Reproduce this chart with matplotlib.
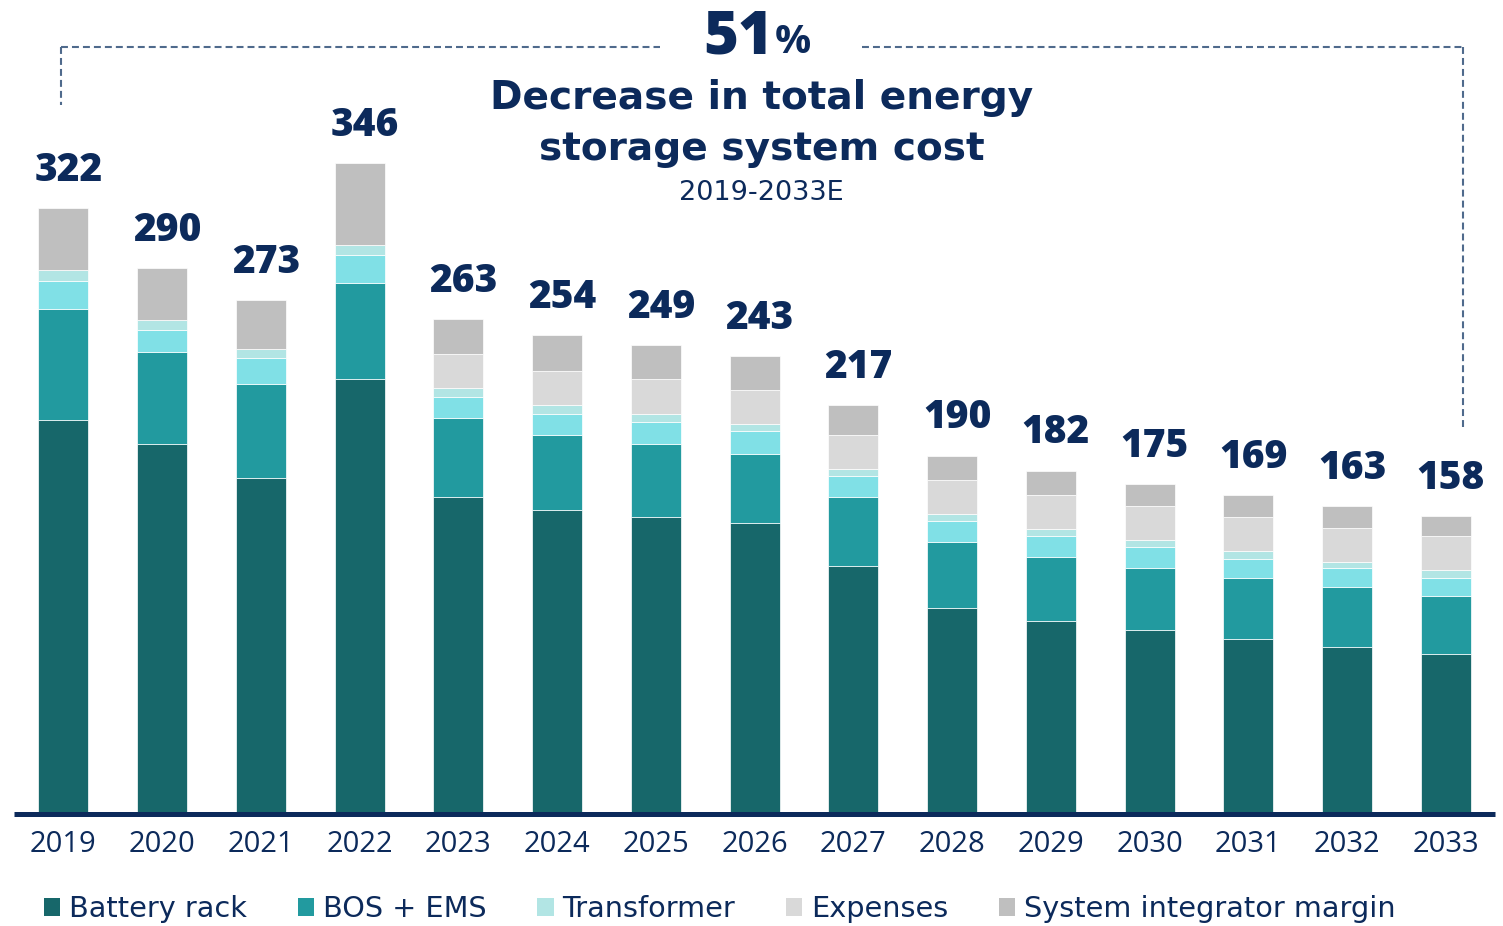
import matplotlib
matplotlib.use("Agg")
import matplotlib.pyplot as plt
from matplotlib.lines import Line2D
import numpy as np

# ---------------- data ----------------
years = ["2019", "2020", "2021", "2022", "2023", "2024", "2025", "2026",
         "2027", "2028", "2029", "2030", "2031", "2032", "2033"]
totals = [322, 290, 273, 346, 263, 254, 249, 243, 217, 190, 182, 175, 169, 163, 158]
battery_rack = [209, 196, 178, 231, 168, 161, 157, 154, 131, 109, 102, 97, 92, 88, 84]
bos_ems = [59, 49, 50, 51, 42, 40, 39, 37, 37, 35, 34, 33, 33, 32, 31]
other_equipment = [15, 12, 14, 15, 11, 11, 12, 12, 11, 11, 11, 11, 10, 10, 10]
transformer = [6, 5, 5, 5, 5, 5, 4, 4, 4, 4, 4, 4, 4, 3, 4]
expenses = [0, 0, 0, 0, 18, 18, 19, 18, 18, 18, 18, 18, 18, 18.5, 18]
integrator_margin = [33, 28, 26, 44, 19, 19, 18, 18, 16, 13, 13, 12, 12, 11.5, 11]

series = [
    ("Battery rack", battery_rack, "#17676A"),
    ("BOS + EMS", bos_ems, "#229A9F"),
    ("_other", other_equipment, "#80E0E6"),
    ("Transformer", transformer, "#B2E5E4"),
    ("Expenses", expenses, "#D9D9D9"),
    ("System integrator margin", integrator_margin, "#BFBFBF"),
]

NAVY = "#0C2A5B"
DASH = "#4F6A8C"
FONT = ["Open Sans", "DejaVu Sans"]
WIDE = ["DejaVu Sans"]
plt.rcParams["font.family"] = FONT
plt.rcParams["lines.scale_dashes"] = False

W, H = 1503, 926
fig = plt.figure(figsize=(W / 100, H / 100), dpi=100)


def fx(px):
    return px / W


def fy(py):
    return 1 - py / H


base_px = 812.0
px_per_unit = 1.876
ax = fig.add_axes([fx(15), fy(base_px), (1495 - 15) / W, base_px / H])
x = np.arange(len(years))
ax.set_xlim(-0.489, 14.497)
ax.set_ylim(0, base_px / px_per_unit)

bottom = np.zeros(len(years))
handles = {}
for name, vals, col in series:
    v = np.array(vals, dtype=float)
    bc = ax.bar(x, v, width=0.506, bottom=bottom, color=col,
                edgecolor="white", linewidth=0.5, label=name, zorder=2)
    handles[name] = bc
    bottom += v

for xi, t in zip(x, totals):
    ax.annotate(str(t), xy=(xi, t), xytext=(3.6, 19.5), textcoords="offset points",
                ha="center", va="baseline", fontsize=28, fontweight="heavy",
                color=NAVY)

ax.set_xticks(x)
ax.set_xticklabels(years, fontsize=21, color=NAVY)
ax.tick_params(axis="x", length=0, pad=13)
ax.set_yticks([])
for s in ax.spines.values():
    s.set_visible(False)

# axis line
fig.add_artist(Line2D([fx(14), fx(1495)], [fy(814.2)] * 2, transform=fig.transFigure,
                      color=NAVY, linewidth=3.6, solid_capstyle="butt"))

# dashed bracket
dash_kw = dict(transform=fig.transFigure, color=DASH, linewidth=1.5,
               linestyle=(0, (5, 2.9)))
fig.add_artist(Line2D([fx(61), fx(660)], [fy(46.7)] * 2, **dash_kw))
fig.add_artist(Line2D([fx(862), fx(1463)], [fy(46.7)] * 2, **dash_kw))
fig.add_artist(Line2D([fx(61)] * 2, [fy(46.7), fy(105)], **dash_kw))
fig.add_artist(Line2D([fx(1463)] * 2, [fy(46.7), fy(430)], **dash_kw))

# headline texts
fig.text(fx(773), fy(53), "51", ha="right", va="baseline", fontsize=43,
         fontweight="heavy", color=NAVY)
fig.text(fx(775), fy(53), "%", ha="left", va="baseline", fontsize=29,
         fontweight="bold", color=NAVY)
fig.text(fx(761.5), fy(109), "Decrease in total energy", ha="center", va="baseline",
         fontsize=28.2, fontweight="bold", color=NAVY, family=WIDE)
fig.text(fx(761.5), fy(160), "storage system cost", ha="center", va="baseline",
         fontsize=28.2, fontweight="bold", color=NAVY, family=WIDE)
fig.text(fx(761.5), fy(200), "2019-2033E", ha="center", va="baseline",
         fontsize=19.5, color=NAVY, family=WIDE)

# legend
order = ["Battery rack", "BOS + EMS", "Transformer", "Expenses", "System integrator margin"]
leg = fig.legend([handles[n] for n in order], order, loc="center left",
                 bbox_to_anchor=(fx(44), fy(909)), ncol=5, frameon=False,
                 prop={"family": WIDE, "size": 20.7}, labelcolor=NAVY,
                 handlelength=0.56, handleheight=0.56,
                 handletextpad=0.3, columnspacing=1.78, borderpad=0, borderaxespad=0)
for p in leg.get_patches():
    p.set_edgecolor("none")

fig.savefig("out.png", dpi=100, facecolor="white")
